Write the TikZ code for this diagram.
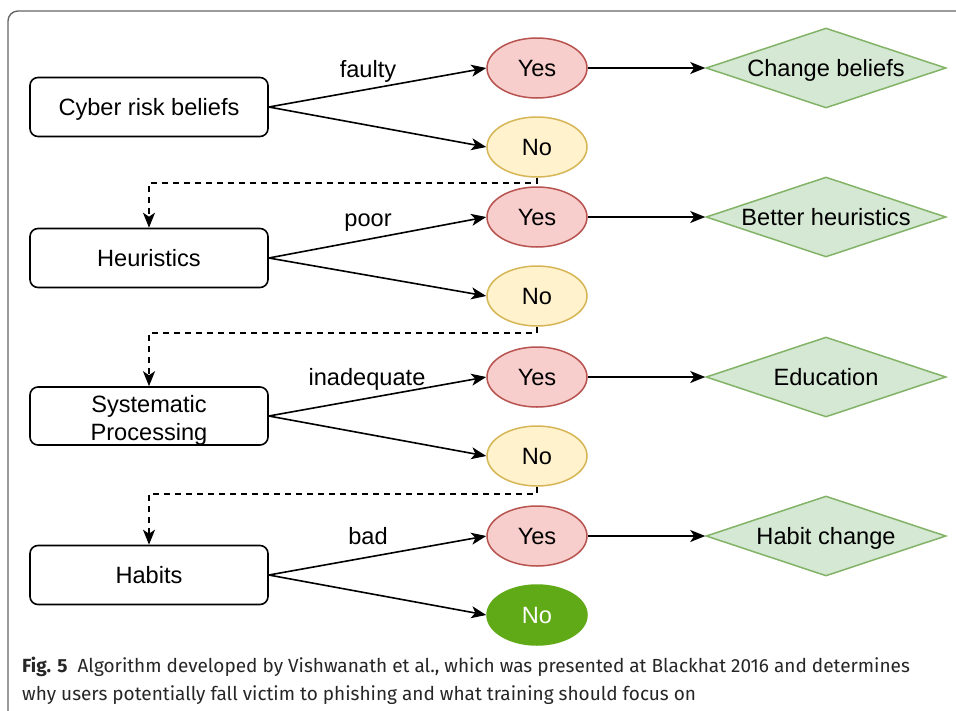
\documentclass[tikz,border=0pt]{standalone}
\usepackage{fontspec}
\setmainfont{Liberation Sans}
\newfontfamily\capfont{Fira Sans}
\usetikzlibrary{shapes.geometric,arrows.meta}
\definecolor{yesfill}{HTML}{F8CECC}
\definecolor{yesdraw}{HTML}{B85450}
\definecolor{nofill}{HTML}{FFF2CC}
\definecolor{nodraw}{HTML}{D6B656}
\definecolor{dfill}{HTML}{D5E8D4}
\definecolor{ddraw}{HTML}{82B366}
\definecolor{gfill}{HTML}{60A917}
\definecolor{framec}{HTML}{666666}
\begin{document}
\begin{tikzpicture}[x=1pt,y=-1pt,
  every node/.style={font=\fontsize{23.6}{27}\selectfont, text height=17pt, text depth=0pt},
  procbox/.style={rectangle, draw=black, line width=1.6pt, rounded corners=8pt,
    minimum width=238pt, minimum height=59pt, align=center, inner sep=0pt},
  yesnode/.style={ellipse, draw=yesdraw, fill=yesfill, line width=1.5pt,
    minimum width=100pt, minimum height=60pt, inner sep=0pt},
  nonode/.style={ellipse, draw=nodraw, fill=nofill, line width=1.5pt,
    minimum width=100pt, minimum height=60pt, inner sep=0pt},
  gnode/.style={ellipse, draw=gfill, fill=gfill, line width=1.5pt, text=white,
    minimum width=100pt, minimum height=60pt, inner sep=0pt},
  dnode/.style={diamond, draw=ddraw, fill=dfill, line width=1.5pt,
    minimum width=240pt, minimum height=80pt, inner sep=0pt},
  arr/.style={-{Stealth[length=15pt,width=12pt,inset=4pt]}, line width=1.6pt},
  dasharr/.style={arr, dash pattern=on 6pt off 5pt},
  lbl/.style={inner sep=0pt},
  capline/.style={anchor=base west, inner sep=0pt, text height=, text depth=,
    font=\capfont\fontsize{19}{22}\selectfont, text=black!85}
]
\useasboundingbox (0,0) rectangle (956,710);
\fill[white] (0,0) rectangle (956,710);
\draw[framec, line width=1.4pt, rounded corners=10pt] (8,720) -- (8,11) -- (970,11);

% row 1
\node[procbox] (b1) at (149,107) {Cyber risk beliefs};
\node[yesnode] (y1) at (537,68) {Yes};
\node[nonode] (n1) at (537,147) {No};
\node[dnode, label={center:Change beliefs}] (d1) at (826,68) {};
\node[lbl] (l1) at (368,69) {faulty};
% row 2
\node[procbox] (b2) at (149,258) {Heuristics};
\node[yesnode] (y2) at (537,217) {Yes};
\node[nonode] (n2) at (537,296) {No};
\node[dnode, label={center:Better heuristics}] (d2) at (826,217) {};
\node[lbl] (l2) at (368,218) {poor};
% row 3
\node[procbox, minimum height=58pt,
  label={[align=center, text height=, text depth=, yshift=-4pt]center:Systematic\\[1pt]Processing}] (b3) at (149,416) {};
\node[yesnode] (y3) at (537,377) {Yes};
\node[nonode] (n3) at (537,456) {No};
\node[dnode, label={center:Education}] (d3) at (826,377) {};
\node[lbl] (l3) at (367,377) {inadequate};
% row 4
\node[procbox] (b4) at (149,575) {Habits};
\node[yesnode] (y4) at (537,536) {Yes};
\node[gnode] (n4) at (537,615) {No};
\node[dnode, label={center:Habit change}] (d4) at (826,536) {};
\node[lbl] (l4) at (368,536) {bad};

\foreach \i in {1,2,3,4}{
  \draw[arr] (b\i.east) -- (y\i.west);
  \draw[arr] (b\i.east) -- (n\i.west);
  \draw[arr] (y\i.east) -- (d\i.west);
}
\draw[dasharr] (n1.south) -- ++(0,5) -| (b2.north);
\draw[dasharr] (n2.south) -- ++(0,6) -| (b3.north);
\draw[dasharr] (n3.south) -- ++(0,7) -| (b4.north);

\node[capline] (c1) at (22,672) {\textbf{Fig. 5}\ \ Algorithm developed by Vishwanath et al., which was presented at Blackhat 2016 and determines};
\node[capline] (c2) at (22,700) {why users potentially fall victim to phishing and what training should focus on};
\end{tikzpicture}
\end{document}
